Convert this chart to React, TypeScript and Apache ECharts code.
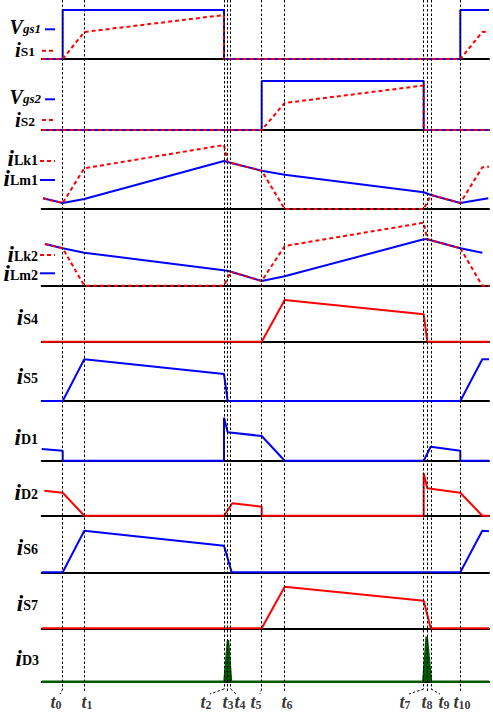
import React, { useEffect, useRef } from "react";
import * as echarts from "echarts";

// time instants t0..t10 (horizontal units)
const tInstants = [62.7, 84.3, 224, 227.5, 230.7, 261.7, 284.7, 423.7, 427.3, 431, 460.3];
const tNames = ["0", "1", "2", "3", "4", "5", "6", "7", "8", "9", "10"];
const X_MIN = 41.7;
const X_MAX = 489;

// waveforms: [time, value]
const vgs1 = [[41.7, 0], [62.7, 0], [62.7, 49], [224, 49], [224, 0], [460.3, 0], [460.3, 49], [489, 49]];
const iS1 = [[41.7, 0], [62.7, 0], [84.3, 27], [224, 44], [224, 0], [460.3, 0], [482.3, 27], [489, 27.5]];
const vgs2 = [[41.7, 0], [261.7, 0], [261.7, 49], [423.7, 49], [423.7, 0], [489, 0]];
const iS2 = [[41.7, 0], [261.7, 0], [284.7, 27], [423.7, 44.5], [423.7, 0], [489, 0]];
const iLm1 = [[43, 10.7], [62.7, 6], [84.3, 10], [224, 48], [227.5, 47], [261.7, 38.3], [284.7, 34.3], [423.7, 16.7], [431, 14], [460.3, 6], [488.3, 10.7]];
const iLk1 = [[43, 10.7], [62.7, 6], [84.3, 40.7], [224, 64], [227.5, 47], [261.7, 38.3], [284.7, 0], [423.7, 0], [431, 14], [460.3, 6], [482.3, 41.7], [489, 42.3]];
const iLm2 = [[45, 41.7], [62.7, 37.4], [84.3, 33], [227.5, 15], [261.7, 4.7], [284.7, 9.4], [423.7, 46.4], [427.3, 46.4], [460.3, 37.4], [482.3, 33]];
const iLk2 = [[45, 41.7], [62.7, 37.4], [84.3, 0], [224, 0], [230.7, 14], [261.7, 4.7], [284.7, 39.7], [423.7, 63], [427.3, 46.4], [460.3, 37.4], [482.3, 0], [489, 0]];
const iS4 = [[41.7, 0], [261.7, 0], [284.7, 41.7], [423.7, 27.4], [427.3, 0], [489, 0]];
const iS5 = [[41.7, 0], [62.7, 0], [84.3, 41.7], [224, 27], [227.7, 0], [460.3, 0], [482.3, 41.7], [489, 41.7]];
const iD1 = [[41.7, 11.7], [62.7, 10], [62.7, 0], [224, 0], [224, 43], [227.7, 28.4], [261.7, 24.7], [284.7, 0], [423.7, 0], [430.7, 14], [460.3, 10], [460.3, 0], [489, 0]];
const iD2 = [[44.3, 25], [62.7, 23], [84.3, 0], [224, 0], [232.3, 12.4], [261.7, 9], [261.7, 0], [423.7, 0], [423.7, 42.4], [427.3, 27.4], [460.3, 23], [482.3, 0], [489, 0]];
const iS6 = [[41.7, 0], [62.7, 0], [84.3, 41.6], [224, 26.6], [231.7, 0], [460.3, 0], [482.3, 41.6], [489, 41]];
const iS7 = [[41.7, 0], [261.7, 0], [284.7, 41.6], [423.7, 27.6], [430.7, 0], [489, 0]];
const iD3 = [[41.7, 0], [224.5, 0], [228, 41.7], [231, 0], [423.3, 0], [426.7, 45], [431, 0], [489, 0]];

const BLUE = "#0000ff";
const RED = "#ff0000";
const GREEN = "#005a00";
const SERIF = "Liberation Serif";

type S = { d: number[][]; c: string; dash?: boolean; area?: boolean };
const panels: { base: number; H: number; series: S[] }[] = [
  { base: 59, H: 56, series: [{ d: vgs1, c: BLUE }, { d: iS1, c: RED, dash: true }] },
  { base: 130, H: 56, series: [{ d: vgs2, c: BLUE }, { d: iS2, c: RED, dash: true }] },
  { base: 209, H: 68, series: [{ d: iLm1, c: BLUE }, { d: iLk1, c: RED, dash: true }] },
  { base: 285.7, H: 68, series: [{ d: iLm2, c: BLUE }, { d: iLk2, c: RED, dash: true }] },
  { base: 341.7, H: 50, series: [{ d: iS4, c: RED }] },
  { base: 401, H: 50, series: [{ d: iS5, c: BLUE }] },
  { base: 460.7, H: 50, series: [{ d: iD1, c: BLUE }] },
  { base: 515.7, H: 50, series: [{ d: iD2, c: RED }] },
  { base: 572.3, H: 50, series: [{ d: iS6, c: BLUE }] },
  { base: 628.3, H: 50, series: [{ d: iS7, c: RED }] },
  { base: 681.7, H: 50, series: [{ d: iD3, c: GREEN, area: true }] },
];

// left-hand labels
const leftLabels = [
  { m: "V", s: "gs1", it: true, x: 41, y: 27, fs: 20, ss: 13 },
  { m: "i", s: "S1", x: 35, y: 50, fs: 21, ss: 13.5 },
  { m: "V", s: "gs2", it: true, x: 41, y: 97, fs: 20, ss: 13 },
  { m: "i", s: "S2", x: 35, y: 120, fs: 21, ss: 13.5 },
  { m: "i", s: "Lk1", x: 38, y: 158 },
  { m: "i", s: "Lm1", x: 38, y: 178 },
  { m: "i", s: "Lk2", x: 38, y: 254 },
  { m: "i", s: "Lm2", x: 38, y: 273 },
  { m: "i", s: "S4", x: 38, y: 317 },
  { m: "i", s: "S5", x: 38, y: 376 },
  { m: "i", s: "D1", x: 38, y: 437 },
  { m: "i", s: "D2", x: 38, y: 492 },
  { m: "i", s: "S6", x: 38, y: 547 },
  { m: "i", s: "S7", x: 38, y: 603 },
  { m: "i", s: "D3", x: 39, y: 658 },
];
const legendKeys = [
  { x1: 45, x2: 55, y: 29.3, c: BLUE },
  { x1: 42, x2: 55, y: 50.7, c: RED, dash: true },
  { x1: 45, x2: 55, y: 99.3, c: BLUE },
  { x1: 42, x2: 55, y: 120, c: RED, dash: true },
  { x1: 40, x2: 55, y: 161, c: RED, dash: true },
  { x1: 40, x2: 55, y: 180, c: BLUE },
  { x1: 40, x2: 55, y: 255, c: RED, dash: true },
  { x1: 40, x2: 55, y: 273.3, c: BLUE },
];

// t-label placement (layout)
const tLabelX = [56, 87, 206, 228, 240, 256, 287, 405, 427, 444, 462];
const tLeader = [true, false, true, false, true, true, false, true, false, true, false];
const LINE_BOTTOM = 692;
const LEADER_TOP = 689;
const LEADER_END = 694;
const LABEL_Y = 702;

export default function App() {
  const ref = useRef<HTMLDivElement>(null);
  useEffect(() => {
    document.body.style.margin = "0";
    const chart = echarts.init(ref.current!, null, { renderer: "svg" });
    const grids: any[] = [];
    const xAxes: any[] = [];
    const yAxes: any[] = [];
    const series: any[] = [];
    panels.forEach((p, i) => {
      grids.push({ left: X_MIN, width: X_MAX - X_MIN, top: p.base - p.H, height: p.H });
      xAxes.push({
        gridIndex: i, type: "value", min: X_MIN, max: X_MAX,
        axisLine: { show: true, onZero: false, lineStyle: { color: "#000", width: 2 } },
        axisTick: { show: false }, axisLabel: { show: false }, splitLine: { show: false },
      });
      yAxes.push({ gridIndex: i, type: "value", min: 0, max: p.H, show: false, splitLine: { show: false } });
      p.series.forEach((s) => {
        series.push({
          type: "line", xAxisIndex: i, yAxisIndex: i, data: s.d, symbol: "none", showSymbol: false,
          silent: true, clip: false,
          lineStyle: { color: s.c, width: s.area ? 2.5 : 2, type: s.dash ? [4, 3] : "solid" },
          areaStyle: s.area ? { color: s.c, opacity: 1 } : undefined,
        });
      });
    });
    // overlay grid for timing markers
    const ov = panels.length;
    grids.push({ left: X_MIN, width: X_MAX - X_MIN, top: 0, height: 715 });
    xAxes.push({ gridIndex: ov, type: "value", min: X_MIN, max: X_MAX, show: false, splitLine: { show: false } });
    yAxes.push({ gridIndex: ov, type: "value", min: 0, max: 715, inverse: true, show: false, splitLine: { show: false } });
    const segs: any[] = [];
    tInstants.forEach((t, i) => {
      if (tLeader[i]) {
        segs.push({ coords: [[t, 0], [t, LEADER_TOP]] });
        segs.push({ coords: [[t, LEADER_TOP], [tLabelX[i] + (tLabelX[i] < t ? 4 : -4), LEADER_END]] });
      } else {
        segs.push({ coords: [[t, 0], [t, LINE_BOTTOM]] });
      }
    });
    series.push({
      type: "lines", coordinateSystem: "cartesian2d", xAxisIndex: ov, yAxisIndex: ov, polyline: false,
      silent: true, z: 10, data: segs, symbol: "none",
      lineStyle: { color: "#000", width: 1, type: [2.5, 2], opacity: 1 },
    });
    series.push({
      type: "scatter", xAxisIndex: ov, yAxisIndex: ov, symbolSize: 1, silent: true, z: 11,
      itemStyle: { color: "rgba(0,0,0,0)" },
      data: tInstants.map((t, i) => ({ value: [tLabelX[i], LABEL_Y], name: tNames[i] })),
      label: {
        show: true, position: "inside", align: "center", verticalAlign: "middle",
        formatter: (p: any) => `{t|t}{s|${p.name}}`,
        rich: {
          t: { fontFamily: SERIF, fontStyle: "italic", fontWeight: "bold", fontSize: 18, lineHeight: 18, color: "#000" },
          s: { fontFamily: SERIF, fontWeight: "bold", fontSize: 12, lineHeight: 8, verticalAlign: "bottom", color: "#000" },
        },
      },
    });
    const graphic: any[] = [];
    leftLabels.forEach((l: any) => {
      const fs = l.fs || 23;
      const ss = l.ss || 14;
      graphic.push({
        type: "text", x: l.x, y: l.y, silent: true,
        style: {
          text: `{m|${l.m}}{s|${l.s}}`, align: "right", verticalAlign: "middle",
          rich: {
            m: { fontFamily: SERIF, fontStyle: "italic", fontWeight: "bold", fontSize: fs, lineHeight: fs - 4, fill: "#000", color: "#000" },
            s: { fontFamily: SERIF, fontStyle: l.it ? "italic" : "normal", fontWeight: "bold", fontSize: ss, lineHeight: 8, verticalAlign: "bottom", fill: "#000", color: "#000" },
          },
        },
      });
    });
    legendKeys.forEach((k) => {
      graphic.push({
        type: "line", silent: true,
        shape: { x1: k.x1, y1: k.y, x2: k.x2, y2: k.y },
        style: { stroke: k.c, lineWidth: 2, lineDash: k.dash ? [4, 3] : null },
      });
    });
    chart.setOption({
      animation: false,
      backgroundColor: "#fff",
      grid: grids, xAxis: xAxes, yAxis: yAxes, series, graphic,
    });
    return () => chart.dispose();
  }, []);
  return <div ref={ref} style={{ width: 493, height: 715 }} />;
}
